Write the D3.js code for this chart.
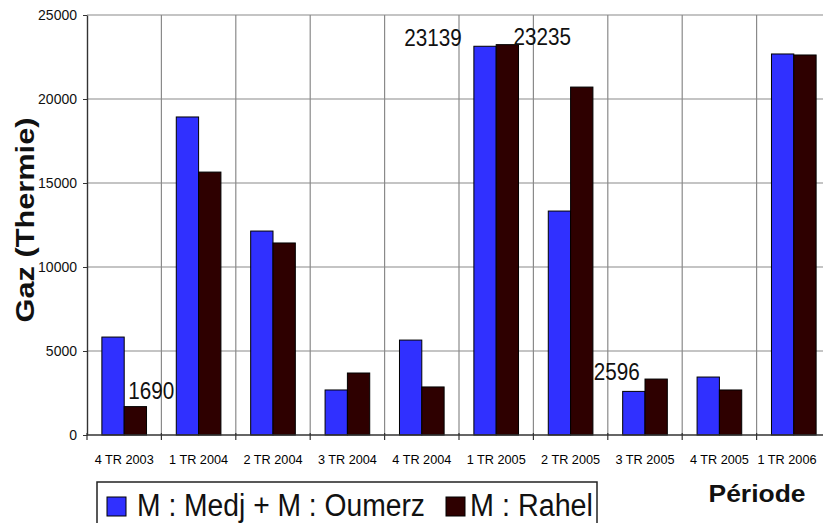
<!DOCTYPE html>
<html>
<head>
<meta charset="utf-8">
<script src="https://cdn.jsdelivr.net/npm/d3@7"></script>
<style>
  html, body { margin: 0; padding: 0; background: #fff; }
  svg { display: block; }
  text { font-family: "Liberation Sans", Arial, sans-serif; fill: #111; }
</style>
</head>
<body>
<svg id="chart" width="823" height="523"></svg>
<script>
// ---- Data ----
const categories = ["4 TR 2003", "1 TR 2004", "2 TR 2004", "3 TR 2004", "4 TR 2004",
                    "1 TR 2005", "2 TR 2005", "3 TR 2005", "4 TR 2005", "1 TR 2006"];
const seriesNames = ["M : Medj + M : Oumerz", "M : Rahel"];
const medjOumerz = [5830, 18930, 12140, 2680, 5650, 23139, 13330, 2596, 3450, 22680];
const rahel      = [1690, 15650, 11430, 3690, 2860, 23235, 20710, 3330, 2680, 22620];
const yTicks = [0, 5000, 10000, 15000, 20000, 25000];
// Data labels shown in the chart: [series index, category index]
const labelled = [[1, 0], [0, 5], [1, 5], [0, 7]];

const colors = ["#3030ff", "#2e0000"];
const seriesValues = [medjOumerz, rahel];

const svg = d3.select("#chart");
const pLeft = 87, pRight = 831, pTop = 15, pBottom = 435;

const x = d3.scaleBand().domain(categories).range([pLeft, pRight]).paddingInner(0).paddingOuter(0);
const x1 = d3.scaleBand().domain(d3.range(seriesNames.length))
  .range([x.bandwidth() * 0.2, x.bandwidth() * 0.8]).padding(0);
const y = d3.scaleLinear().domain([0, 25000]).range([pBottom, pTop]);

// Horizontal gridlines
svg.append("g").selectAll("line").data(yTicks.filter(d => d > 0)).join("line")
  .attr("x1", pLeft).attr("x2", 823)
  .attr("y1", d => y(d)).attr("y2", d => y(d))
  .attr("stroke", "#8a8a8a").attr("stroke-width", 1.2);

// Vertical gridlines at category boundaries
svg.append("g").selectAll("line").data(categories.slice(1)).join("line")
  .attr("x1", d => x(d)).attr("x2", d => x(d))
  .attr("y1", pTop).attr("y2", pBottom)
  .attr("stroke", "#8a8a8a").attr("stroke-width", 1.2);

// Bars
const groups = svg.append("g").selectAll("g").data(categories).join("g")
  .attr("transform", d => `translate(${x(d)},0)`);
groups.selectAll("rect")
  .data((d, i) => seriesValues.map((s, si) => ({ si, v: s[i] })))
  .join("rect")
  .attr("x", d => x1(d.si))
  .attr("width", x1.bandwidth())
  .attr("y", d => y(d.v))
  .attr("height", d => y(0) - y(d.v))
  .attr("fill", d => colors[d.si])
  .attr("stroke", "#000").attr("stroke-width", 1);

// Y axis
const yAxis = d3.axisLeft(y).tickValues(yTicks).tickSize(4).tickSizeOuter(0).tickFormat(d3.format("d"));
const gy = svg.append("g").attr("transform", `translate(${pLeft},0)`).call(yAxis);
gy.select(".domain").attr("stroke", "#333").attr("stroke-width", 1.4);
gy.selectAll(".tick line").attr("stroke", "#333");
gy.selectAll(".tick text").attr("x", -10).attr("dy", "0.35em")
  .style("font-size", "14px").attr("fill", "#000");

// X axis line
svg.append("line").attr("x1", pLeft).attr("x2", 823).attr("y1", pBottom).attr("y2", pBottom)
  .attr("stroke", "#333").attr("stroke-width", 1.4);
// X ticks at boundaries
svg.append("g").selectAll("line").data(categories).join("line")
  .attr("x1", d => x(d)).attr("x2", d => x(d))
  .attr("y1", pBottom - 2).attr("y2", pBottom + 5)
  .attr("stroke", "#333").attr("stroke-width", 1.2);
// X tick labels (kept inside the 823px frame)
svg.append("g").selectAll("text").data(categories).join("text")
  .attr("x", d => Math.min(x(d) + x.bandwidth() / 2, 823 - 36))
  .attr("y", 464)
  .attr("text-anchor", "middle")
  .attr("textLength", 59).attr("lengthAdjust", "spacingAndGlyphs")
  .style("font-size", "13.5px").style("fill", "#000")
  .text(d => d);

// Data labels
const labelOffsets = { "1,0": [16, -8], "0,5": [-52, 0], "1,5": [35, 0], "0,7": [-17, -11] };
svg.append("g").selectAll("text").data(labelled).join("text")
  .attr("x", d => x(categories[d[1]]) + x1(d[0]) + x1.bandwidth() / 2 + labelOffsets[d.join(",")][0])
  .attr("y", d => y(seriesValues[d[0]][d[1]]) + labelOffsets[d.join(",")][1])
  .attr("text-anchor", "middle")
  .style("font-size", "23px")
  .attr("textLength", d => String(seriesValues[d[0]][d[1]]).length * 11.5)
  .attr("lengthAdjust", "spacingAndGlyphs")
  .text(d => seriesValues[d[0]][d[1]]);

// Y axis title
svg.append("text")
  .attr("transform", "translate(34,220) rotate(-90)")
  .attr("text-anchor", "middle")
  .style("font-size", "25px").style("font-weight", "bold")
  .attr("textLength", 205).attr("lengthAdjust", "spacingAndGlyphs")
  .text("Gaz (Thermie)");

// X axis title
svg.append("text")
  .attr("x", 757).attr("y", 502)
  .attr("text-anchor", "middle")
  .style("font-size", "24px").style("font-weight", "bold")
  .attr("textLength", 97).attr("lengthAdjust", "spacingAndGlyphs")
  .text("Période");

// Legend
const legend = svg.append("g");
legend.append("rect").attr("x", 97).attr("y", 482).attr("width", 500).attr("height", 50)
  .attr("fill", "#fff").attr("stroke", "#222").attr("stroke-width", 1.5);
const legendItems = [
  { name: seriesNames[0], mx: 107, tx: 137, tl: 288 },
  { name: seriesNames[1], mx: 446, tx: 470, tl: 123 }
];
legend.selectAll("rect.m").data(legendItems).join("rect").attr("class", "m")
  .attr("x", d => d.mx).attr("y", 497).attr("width", 19).attr("height", 19)
  .attr("fill", (d, i) => colors[i]).attr("stroke", "#000").attr("stroke-width", 1);
legend.selectAll("text").data(legendItems).join("text")
  .attr("x", d => d.tx).attr("y", 516)
  .style("font-size", "31px")
  .attr("textLength", d => d.tl).attr("lengthAdjust", "spacingAndGlyphs")
  .text(d => d.name);
</script>
</body>
</html>
